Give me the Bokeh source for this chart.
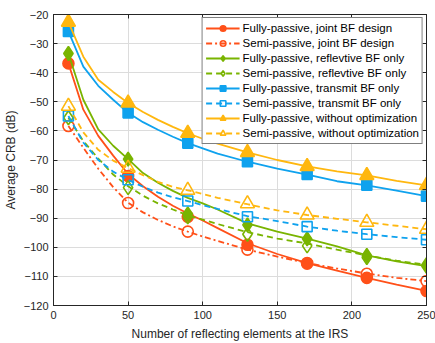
from bokeh.plotting import figure
from bokeh.models import Range1d, LinearAxis, FixedTicker, Legend, LegendItem
from bokeh.embed import file_html
from bokeh.resources import INLINE

# ---- data ----
N_MARK = [10, 50, 90, 130, 170, 210, 250]
N_LINE = [10, 20, 30, 40, 50, 60, 70, 80, 90, 100, 110, 130, 150, 170, 190, 210, 230, 250]

fp_joint_mk = [-36.8, -75.5, -89.5, -99.1, -105.4, -110.5, -115.0]
sp_joint_mk = [-58.3, -84.8, -94.6, -100.8, -105.6, -109.1, -111.6]
fp_refl_mk = [-33.4, -69.7, -88.5, -92.3, -97.1, -102.8, -106.5]
sp_refl_mk = [-55.5, -79.5, -89.5, -95.5, -99.5, -103.5, -106.0]
fp_tx_mk = [-25.8, -53.8, -64.2, -70.6, -75.0, -78.7, -82.4]
sp_tx_mk = [-54.9, -76.8, -84.1, -89.5, -92.9, -95.5, -97.4]
fp_none_mk = [-22.6, -50.4, -60.8, -67.4, -72.2, -75.3, -78.7]
sp_none_mk = [-51.5, -72.8, -80.4, -85.0, -88.9, -91.4, -93.8]

fp_joint_ln = [-36.8, -52.7, -61.7, -68.5, -74.8, -79.0, -82.6, -85.7, -88.4, -90.8, -93.4, -98.6, -102.3, -105.4, -108.0, -110.5, -112.8, -115.0]
sp_joint_ln = [-58.3, -65.8, -73.0, -79.3, -84.7, -88.0, -90.6, -92.8, -94.6, -96.3, -97.8, -100.8, -103.2, -105.4, -107.3, -109.0, -110.5, -111.6]
fp_refl_ln = [-33.4, -49.3, -59.5, -65.1, -69.7, -74.5, -77.8, -80.6, -83.0, -84.9, -87.0, -91.8, -94.6, -97.0, -99.7, -102.8, -104.8, -106.5]
sp_refl_ln = [-55.5, -63.5, -69.5, -75.0, -79.0, -82.3, -84.9, -87.0, -89.0, -90.5, -92.0, -94.8, -97.0, -98.7, -100.8, -102.8, -104.6, -106.0]
fp_tx_ln = [-25.8, -37.9, -44.5, -49.3, -53.8, -57.0, -59.6, -62.0, -64.2, -66.0, -67.8, -70.6, -73.0, -75.0, -77.3, -78.7, -80.5, -82.4]
sp_tx_ln = [-54.9, -64.0, -70.0, -74.0, -76.8, -79.2, -81.2, -82.8, -84.1, -85.5, -86.8, -89.3, -91.0, -92.9, -94.3, -95.5, -96.5, -97.4]
fp_none_ln = [-22.6, -34.5, -42.4, -46.6, -50.4, -53.5, -56.2, -58.6, -60.8, -62.7, -64.4, -67.4, -70.0, -72.2, -73.9, -75.3, -77.2, -78.7]
sp_none_ln = [-51.5, -60.5, -66.5, -70.2, -72.8, -75.2, -77.5, -79.2, -80.4, -81.7, -83.0, -85.2, -87.3, -88.9, -90.2, -91.4, -92.6, -93.8]

LABELS = [
    "Fully-passive, joint BF design",
    "Semi-passive, joint BF design",
    "Fully-passive, reflevtive BF only",
    "Semi-passive, reflevtive BF only",
    "Fully-passive, transmit BF only",
    "Semi-passive, transmit BF only",
    "Fully-passive, without optimization",
    "Semi-passive, without optimization",
]
X_TICKS = [0, 50, 100, 150, 200, 250]
Y_TICKS = [-120, -110, -100, -90, -80, -70, -60, -50, -40, -30, -20]

RED = "#FF5019"
GREEN = "#79B400"
BLUE = "#0FA2EE"
YELLOW = "#FFB70F"

series = [
    (fp_joint_ln, fp_joint_mk, RED, "solid", "circle", True, 11),
    (sp_joint_ln, sp_joint_mk, RED, "6 3 2 3", "circle", False, 11),
    (fp_refl_ln, fp_refl_mk, GREEN, "solid", "diamond", True, 14),
    (sp_refl_ln, sp_refl_mk, GREEN, "6 4", "diamond", False, 14),
    (fp_tx_ln, fp_tx_mk, BLUE, "solid", "square", True, 10),
    (sp_tx_ln, sp_tx_mk, BLUE, "6 4", "square", False, 10),
    (fp_none_ln, fp_none_mk, YELLOW, "solid", "triangle", True, 14),
    (sp_none_ln, sp_none_mk, YELLOW, "6 4", "triangle", False, 14),
]

FONT = "Liberation Sans"
TXT = "#262626"

p = figure(width=435, height=343, output_backend="svg", toolbar_location=None,
           x_range=Range1d(0, 250), y_range=Range1d(-120, -20),
           min_border_left=53, min_border_right=9, min_border_top=14, min_border_bottom=35)

p.outline_line_color = TXT
p.outline_line_width = 1
p.background_fill_color = "white"
p.border_fill_color = "white"

for ax in (p.xaxis[0], p.yaxis[0]):
    ax.axis_line_color = TXT
    ax.major_tick_line_color = TXT
    ax.major_tick_in = 4
    ax.major_tick_out = 0
    ax.minor_tick_line_color = None
    ax.major_label_text_font = FONT
    ax.major_label_text_font_size = "11px"
    ax.major_label_text_color = TXT
    ax.axis_label_text_font = FONT
    ax.axis_label_text_font_size = "12px"
    ax.axis_label_text_font_style = "normal"
    ax.axis_label_text_color = TXT

p.xaxis[0].ticker = FixedTicker(ticks=X_TICKS)
p.yaxis[0].ticker = FixedTicker(ticks=Y_TICKS)
p.xaxis[0].axis_label = "Number of reflecting elements at the IRS"
p.yaxis[0].axis_label = "Average CRB (dB)"
p.xaxis[0].major_label_standoff = 5
p.xaxis[0].axis_label_standoff = 5
p.yaxis[0].major_label_standoff = 5
p.yaxis[0].axis_label_standoff = 3

# mirrored ticks on top and right (box on), labels left blank
top = LinearAxis(ticker=FixedTicker(ticks=X_TICKS),
                 major_label_overrides={t: "" for t in X_TICKS},
                 major_tick_in=4, major_tick_out=0, minor_tick_line_color=None,
                 axis_line_color=TXT, major_tick_line_color=TXT, major_label_standoff=0)
right = LinearAxis(ticker=FixedTicker(ticks=Y_TICKS),
                   major_label_overrides={t: "" for t in Y_TICKS},
                   major_tick_in=4, major_tick_out=0, minor_tick_line_color=None,
                   axis_line_color=TXT, major_tick_line_color=TXT, major_label_standoff=0)
p.add_layout(top, "above")
p.add_layout(right, "right")

p.xgrid.ticker = FixedTicker(ticks=X_TICKS)
p.ygrid.ticker = FixedTicker(ticks=Y_TICKS)
p.grid.grid_line_color = "#DCDCDC"
p.grid.grid_line_width = 1

items = []
for (ln, mk, color, dash, marker, filled, size), label in zip(series, LABELS):
    lr = p.line(N_LINE, ln, line_color=color, line_width=1.8, line_dash=dash)
    mr = p.scatter(N_MARK, mk, marker=marker, size=size,
                   line_color=color, line_width=1.6,
                   fill_color=color if filled else None)
    items.append(LegendItem(label=label, renderers=[lr, mr]))

legend = Legend(items=items, location="top_right")
legend.label_text_font = FONT
legend.label_text_font_size = "11.5px"
legend.label_text_color = "black"
legend.border_line_color = "black"
legend.border_line_width = 1
legend.background_fill_color = "white"
legend.background_fill_alpha = 1
legend.glyph_width = 34
legend.glyph_height = 14
legend.label_height = 14
legend.label_standoff = 3
legend.spacing = 1
legend.padding = 3
legend.margin = 3
p.add_layout(legend, "center")

open("out.html", "w").write(file_html(p, INLINE))
